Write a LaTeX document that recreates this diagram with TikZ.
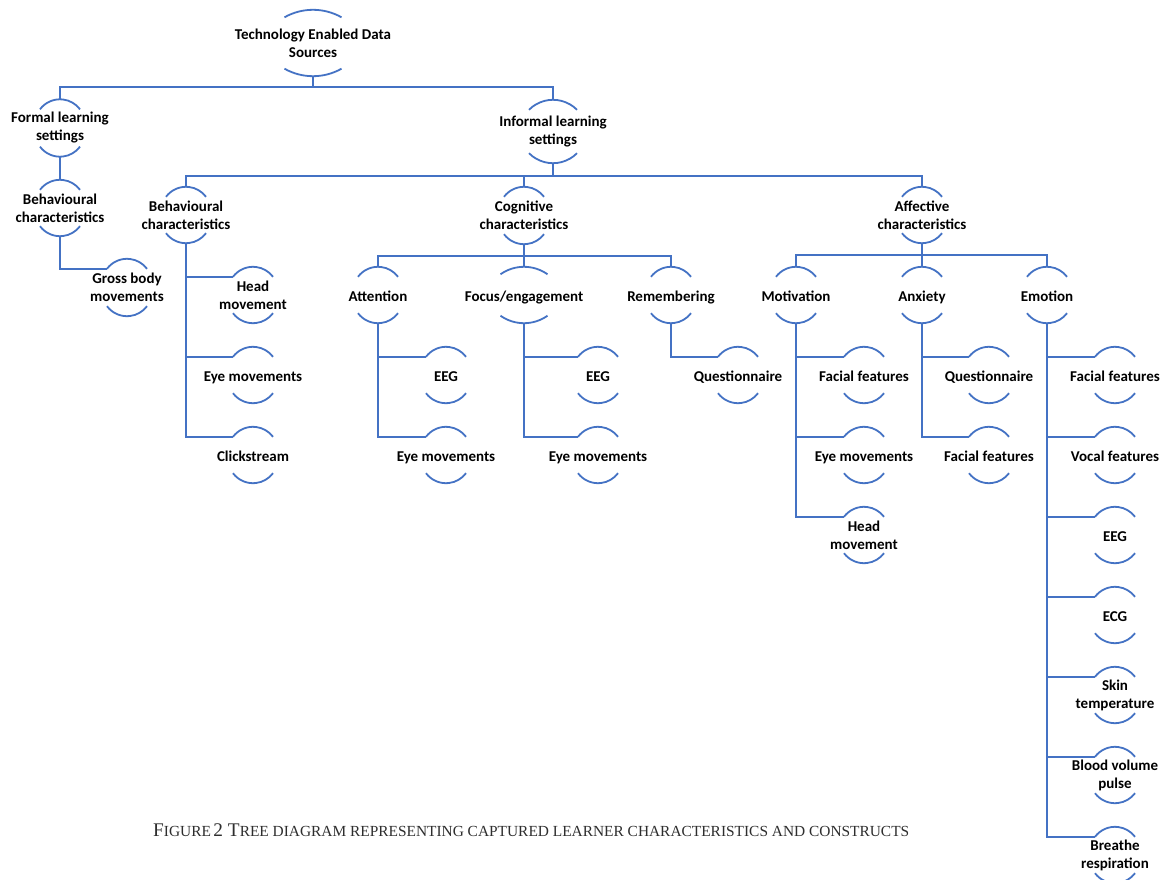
\documentclass[tikz,border=0pt]{standalone}
\usepackage{fontspec}
\setmainfont{Carlito}
\newfontfamily\capfont{Liberation Serif}
\definecolor{lineblue}{HTML}{4472C4}
\definecolor{capgray}{HTML}{2E2E2E}
\tikzset{
  tn/.style={font=\fontsize{15}{18}\selectfont\bfseries, align=center, inner sep=0pt, minimum height=56pt, text=black},
  tl/.style={tn, text height=13.25pt, text depth=1.25pt},
  conn/.style={draw=lineblue, line width=1.8pt},
}
\newcommand\nodearcs[3]{%
  \pgfmathsetmacro\arcR{(#2*#2+#3*#3)/(2*#3)}%
  \pgfmathsetmacro\arcA{asin(#2/\arcR)}%
  \draw[conn] ([shift={(-#2pt,-#3pt)}]#1.north) arc[start angle=90+\arcA, end angle=90-\arcA, radius=\arcR pt];
  \draw[conn] ([shift={(-#2pt,#3pt)}]#1.south) arc[start angle=270-\arcA, end angle=270+\arcA, radius=\arcR pt];
}
\newcommand\sidebranch[2]{%
  \draw[conn] (#1.south) |- ([shift={(-20pt,-10pt)}]#2.north);
}
\newcommand\busbranch[3]{%
  \draw[conn] (#1.south) -- ++(0,#3) -| (#2.north);
}
\newcommand\BigC[1]{{\fontsize{19.3}{20}\selectfont #1}}
\newcommand\SmC[1]{{\fontsize{15.4}{20}\selectfont #1}}
\begin{document}
\begin{tikzpicture}[x=1pt,y=-1pt]
\useasboundingbox[fill=white] (0,0) rectangle (1161,880);
% nodes
\node[tn, minimum height=66pt] (root) at (313,43) {Technology Enabled Data\\Sources};
\node[tn, minimum height=57pt] (formal) at (60,128) {Formal learning\\settings};
\node[tn] (beh1) at (60,208) {Behavioural\\characteristics};
\node[tn, minimum height=57pt] (gross) at (127,287.5) {Gross body\\movements};
\node[tn, minimum height=63pt] (informal) at (553,131.5) {Informal learning\\settings};
\node[tn] (beh2) at (186,215) {Behavioural\\characteristics};
\node[tn, minimum height=57pt] (cog) at (524,215.5) {Cognitive\\characteristics};
\node[tn] (aff) at (922,215) {Affective\\characteristics};
\node[tn] (head1) at (253,295) {Head\\movement};
\node[tl] (eye1) at (253,375) {Eye movements};
\node[tl] (click) at (253,455) {Clickstream};
\node[tl] (att) at (378,295) {Attention};
\node[tl] (foc) at (524,295) {Focus/engagement};
\node[tl] (rem) at (671,295) {Remembering};
\node[tl] (eeg1) at (446,375) {EEG};
\node[tl] (eye2) at (446,455) {Eye movements};
\node[tl] (eeg2) at (598,375) {EEG};
\node[tl] (eye3) at (598,455) {Eye movements};
\node[tl] (quest1) at (738,375) {Questionnaire};
\node[tl] (mot) at (796,295) {Motivation};
\node[tl] (anx) at (922,295) {Anxiety};
\node[tl] (emo) at (1047,295) {Emotion};
\node[tl] (fac1) at (864,375) {Facial features};
\node[tl] (eye4) at (864,455) {Eye movements};
\node[tn] (head2) at (864,535) {Head\\movement};
\node[tl] (quest2) at (989,375) {Questionnaire};
\node[tl] (fac2) at (989,455) {Facial features};
\node[tl] (fac3) at (1115,375) {Facial features};
\node[tl] (vocal) at (1115,455) {Vocal features};
\node[tl] (eeg3) at (1115,535) {EEG};
\node[tl] (ecg) at (1115,615) {ECG};
\node[tn] (skin) at (1115,695) {Skin\\temperature};
\node[tn] (blood) at (1115,775) {Blood volume\\pulse};
\node[tn] (breathe) at (1115,855) {Breathe\\respiration};
% arcs
\nodearcs{root}{28.5}{7.5}
\nodearcs{informal}{24}{10}
\nodearcs{foc}{23.5}{7.5}
\foreach \n in {formal,beh1,gross,beh2,cog,aff,head1,eye1,click,att,rem,eeg1,eye2,eeg2,eye3,quest1,mot,anx,emo,fac1,eye4,head2,quest2,fac2,fac3,vocal,eeg3,ecg,skin,blood,breathe}{\nodearcs{\n}{20}{10}}
% connectors
\busbranch{root}{formal}{11}
\busbranch{root}{informal}{11}
\draw[conn] (formal.south) -- (beh1.north);
\sidebranch{beh1}{gross}
\busbranch{informal}{beh2}{13}
\busbranch{informal}{cog}{13}
\busbranch{informal}{aff}{13}
\sidebranch{beh2}{head1}
\sidebranch{beh2}{eye1}
\sidebranch{beh2}{click}
\busbranch{cog}{att}{11.5}
\busbranch{cog}{foc}{11.5}
\busbranch{cog}{rem}{11.5}
\sidebranch{att}{eeg1}
\sidebranch{att}{eye2}
\sidebranch{foc}{eeg2}
\sidebranch{foc}{eye3}
\sidebranch{rem}{quest1}
\busbranch{aff}{mot}{12}
\busbranch{aff}{anx}{12}
\busbranch{aff}{emo}{12}
\sidebranch{mot}{fac1}
\sidebranch{mot}{eye4}
\sidebranch{mot}{head2}
\sidebranch{anx}{quest2}
\sidebranch{anx}{fac2}
\foreach \c in {fac3,vocal,eeg3,ecg,skin,blood,breathe}{\sidebranch{emo}{\c}}
% caption
\node[anchor=base west, inner sep=0pt, text=capgray, font=\capfont] (caption) at (153,836)
  {\BigC{F}\SmC{IGURE} \BigC{2 T}\SmC{REE DIAGRAM REPRESENTING CAPTURED LEARNER CHARACTERISTICS AND CONSTRUCTS}};
\end{tikzpicture}
\end{document}
